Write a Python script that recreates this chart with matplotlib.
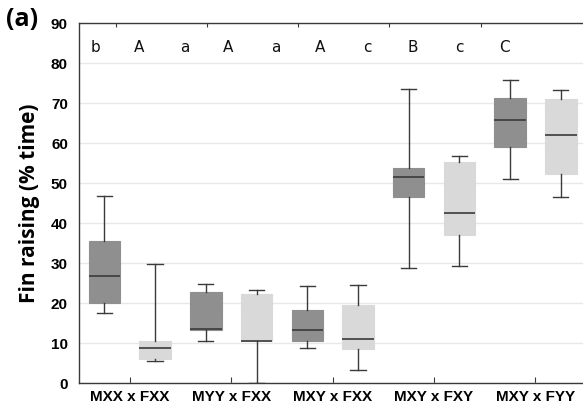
import matplotlib
matplotlib.use("Agg")
import matplotlib.pyplot as plt
import numpy as np

# groups and per-box summary stats (whislo, q1, med, q3, whishi)
groups = ["MXX x FXX", "MYY x FXX", "MXY x FXX", "MXY x FXY", "MXY x FYY"]

dark_lo = [17.6, 10.5, 8.7, 28.7, 51.0]
dark_q1 = [20.1, 13.2, 10.6, 46.6, 59.1]
dark_med = [26.75, 13.6, 13.4, 51.6, 65.75]
dark_q3 = [35.6, 22.8, 18.4, 53.75, 71.3]
dark_hi = [46.8, 24.7, 24.25, 73.7, 75.75]

light_lo = [5.5, 0.0, 3.25, 29.3, 46.5]
light_q1 = [6.1, 10.5, 8.6, 37.1, 52.4]
light_med = [8.75, 10.6, 11.1, 42.5, 62.1]
light_q3 = [10.5, 22.25, 19.5, 55.4, 71.2]
light_hi = [29.9, 23.3, 24.6, 56.75, 73.3]

letters = ["b", "A", "a", "A", "a", "A", "c", "B", "c", "C"]
letter_x = [-0.34, 0.09, 0.54, 0.97, 1.44, 1.88, 2.34, 2.79, 3.25, 3.69]


def make_stats(lo, q1, med, q3, hi):
    return [dict(whislo=a, q1=b, med=c, q3=d, whishi=e, fliers=[])
            for a, b, c, d, e in zip(lo, q1, med, q3, hi)]


dark_col = "#8f8f8f"
light_col = "#d9d9d9"
line_col = "#3a3a3a"

fig = plt.figure(figsize=(5.83, 4.11), dpi=100)
ax = fig.add_axes([0.1355, 0.068, 0.87, 0.875])

pos = np.arange(len(groups))
for stats, offs, col in [(make_stats(dark_lo, dark_q1, dark_med, dark_q3, dark_hi), -0.25, dark_col),
                         (make_stats(light_lo, light_q1, light_med, light_q3, light_hi), 0.25, light_col)]:
    ax.bxp(stats, positions=pos + offs, widths=0.31, patch_artist=True,
           showfliers=False, manage_ticks=False,
           boxprops=dict(facecolor=col, edgecolor=col, linewidth=0.8),
           medianprops=dict(color=line_col, linewidth=1.2),
           whiskerprops=dict(color=line_col, linewidth=1.0),
           capprops=dict(color=line_col, linewidth=1.0),
           capwidths=0.15)

for lx, lt in zip(letter_x, letters):
    ax.text(lx, 84.0, lt, ha="center", va="center", fontsize=11, color="#111111")

ax.set_xlim(-0.5, 4.5)
ax.set_ylim(0, 90)
ax.set_yticks(np.arange(0, 91, 10))
ax.set_xticks(pos)
ax.set_xticklabels(groups, fontweight="bold", fontsize=11, family="Liberation Sans")
for lab in ax.get_yticklabels():
    lab.set_fontweight("bold")
    lab.set_fontsize(11)
    lab.set_family("Liberation Sans")
ax.tick_params(axis="y", length=0, pad=8)
ax.tick_params(axis="x", direction="in", length=4, pad=5, color=line_col)
ax.yaxis.grid(True, color="#e8e8e8", linewidth=1.0)
ax.set_axisbelow(True)
ax.spines["right"].set_visible(False)
for s in ["left", "bottom", "top"]:
    ax.spines[s].set_color(line_col)
    ax.spines[s].set_linewidth(1.0)

top = ax.twiny()
top.set_xlim(ax.get_xlim())
top.set_xticks([-0.14, 0.76, 1.66, 2.56, 3.46])
top.set_xticklabels([])
top.tick_params(axis="x", direction="in", length=3, color=line_col)
for s in ["left", "right", "bottom", "top"]:
    top.spines[s].set_visible(False)

ax.set_ylabel("Fin raising (% time)", fontsize=15, fontweight="bold",
              family="Open Sans", labelpad=8)
fig.text(0.01, 0.982, "(a)", fontsize=18, fontweight="bold",
         family="Open Sans", va="top", ha="left")

fig.savefig("out.png", dpi=100)
